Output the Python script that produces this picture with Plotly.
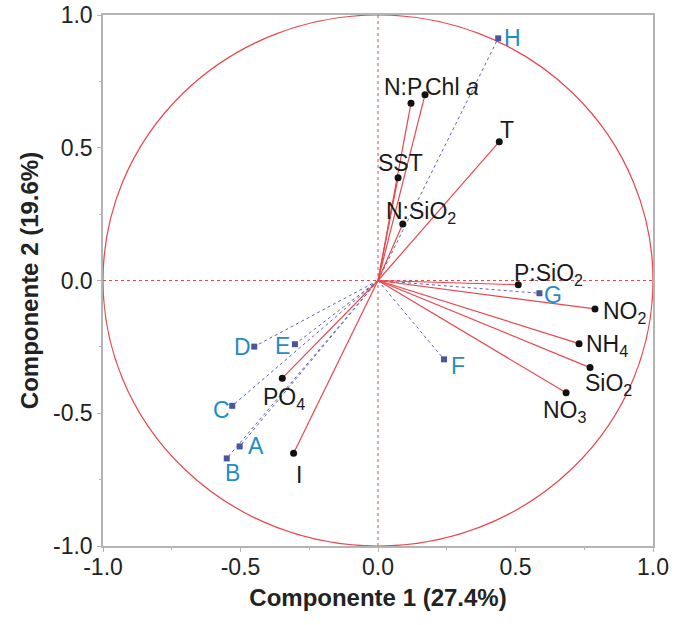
import plotly.graph_objects as go

# PCA loadings of the environmental variables (component 1, component 2)
var_names = ["N:P", "Chl <i>a</i>", "SST", "N:SiO<sub>2</sub>", "T", "P:SiO<sub>2</sub>",
             "NO<sub>2</sub>", "NH<sub>4</sub>", "SiO<sub>2</sub>", "NO<sub>3</sub>",
             "PO<sub>4</sub>", "I"]
var_pc1 = [0.120, 0.171, 0.073, 0.090, 0.441, 0.510, 0.789, 0.731, 0.771, 0.684, -0.348, -0.307]
var_pc2 = [0.668, 0.700, 0.387, 0.213, 0.523, -0.016, -0.107, -0.238, -0.328, -0.423, -0.368, -0.651]

# PCA scores of the sampling sites
site_names = ["A", "B", "C", "D", "E", "F", "G", "H"]
site_pc1 = [-0.503, -0.550, -0.530, -0.450, -0.302, 0.240, 0.587, 0.437]
site_pc2 = [-0.625, -0.670, -0.472, -0.249, -0.240, -0.297, -0.048, 0.912]

# axis ticks
tick_vals = [-1.0, -0.5, 0.0, 0.5, 1.0]
tick_text = ["-1.0", "-0.5", "0.0", "0.5", "1.0"]

# label offsets in pixels (dx, dy) from each point
var_offsets = {
    "N:P": (-8, 16), "Chl <i>a</i>": (27, 8), "SST": (2, 15), "N:SiO<sub>2</sub>": (18, 11),
    "T": (8, 12), "P:SiO<sub>2</sub>": (30, 10), "NO<sub>2</sub>": (30, -4),
    "NH<sub>4</sub>": (28, -2), "SiO<sub>2</sub>": (18, -17), "NO<sub>3</sub>": (-1, -19),
    "PO<sub>4</sub>": (2, -20), "I": (5, -22),
}
site_offsets = {
    "A": (16, 0), "B": (6, -15), "C": (-11, -4), "D": (-12, 0), "E": (-12, -2),
    "F": (14, -7), "G": (14, -2), "H": (14, 0),
}

RED = "#e8474c"
BLUE_LINE = "#5a64b4"
BLUE_MARK = "#4b559f"
BLUE_TEXT = "#1f8dc6"
FONT = "Liberation Sans, Arial, sans-serif"


def spokes(xs, ys):
    lx, ly = [], []
    for x, y in zip(xs, ys):
        lx += [0, x, None]
        ly += [0, y, None]
    return lx, ly


fig = go.Figure()

# unit correlation circle and dotted reference axes
fig.add_shape(type="circle", xref="x", yref="y", x0=-1, y0=-1, x1=1, y1=1,
              line=dict(color=RED, width=1.2), layer="below")
fig.add_shape(type="line", xref="x", yref="y", x0=0, x1=0, y0=-1, y1=1,
              line=dict(color=RED, width=1, dash="dot"), layer="below")
fig.add_shape(type="line", xref="x", yref="y", x0=-1, x1=1, y0=0, y1=0,
              line=dict(color=RED, width=1, dash="dot"), layer="below")

# site vectors
sx, sy = spokes(site_pc1, site_pc2)
fig.add_trace(go.Scatter(x=sx, y=sy, mode="lines",
                         line=dict(color=BLUE_LINE, width=1, dash="dot"),
                         hoverinfo="skip", showlegend=False))
fig.add_trace(go.Scatter(x=site_pc1, y=site_pc2, mode="markers",
                         marker=dict(symbol="square", size=6, color=BLUE_MARK),
                         text=site_names, showlegend=False))

# variable vectors
vx, vy = spokes(var_pc1, var_pc2)
fig.add_trace(go.Scatter(x=vx, y=vy, mode="lines",
                         line=dict(color=RED, width=1.2),
                         hoverinfo="skip", showlegend=False))
fig.add_trace(go.Scatter(x=var_pc1, y=var_pc2, mode="markers",
                         marker=dict(symbol="circle", size=7, color="#111111"),
                         text=var_names, showlegend=False))

for name, x, y in zip(var_names, var_pc1, var_pc2):
    dx, dy = var_offsets[name]
    fig.add_annotation(x=x, y=y, text=name, showarrow=False, xshift=dx, yshift=dy,
                       xanchor="center", yanchor="middle",
                       font=dict(family=FONT, size=23, color="#1a1a1a"))

for name, x, y in zip(site_names, site_pc1, site_pc2):
    dx, dy = site_offsets[name]
    fig.add_annotation(x=x, y=y, text=name, showarrow=False, xshift=dx, yshift=dy,
                       xanchor="center", yanchor="middle",
                       font=dict(family=FONT, size=23, color=BLUE_TEXT))

axis_common = dict(
    range=[-1, 1], tickvals=tick_vals, ticktext=tick_text, automargin=False,
    showline=True, mirror=True, linecolor="#b4b4b4", linewidth=1.5,
    ticks="outside", ticklen=4, tickcolor="#b4b4b4", tickwidth=1,
    minor=dict(ticks="outside", ticklen=2, dtick=0.25, tickcolor="#b4b4b4"),
    showgrid=False, zeroline=False,
    tickfont=dict(family=FONT, size=23, color="#222222"),
)

fig.update_xaxes(**axis_common, ticklabelstandoff=-4,
                 title=dict(text="<b>Componente 1 (27.4%)</b>", standoff=10,
                            font=dict(family=FONT, size=24, color="#222222")))
fig.update_yaxes(**axis_common,
                 title=dict(text="<b>Componente 2 (19.6%)</b>", standoff=8,
                            font=dict(family=FONT, size=24, color="#222222")))

fig.update_layout(
    width=681, height=625,
    margin=dict(l=103, r=28, t=15, b=79),
    paper_bgcolor="white", plot_bgcolor="white",
    showlegend=False,
)

fig.write_html("out.html")
